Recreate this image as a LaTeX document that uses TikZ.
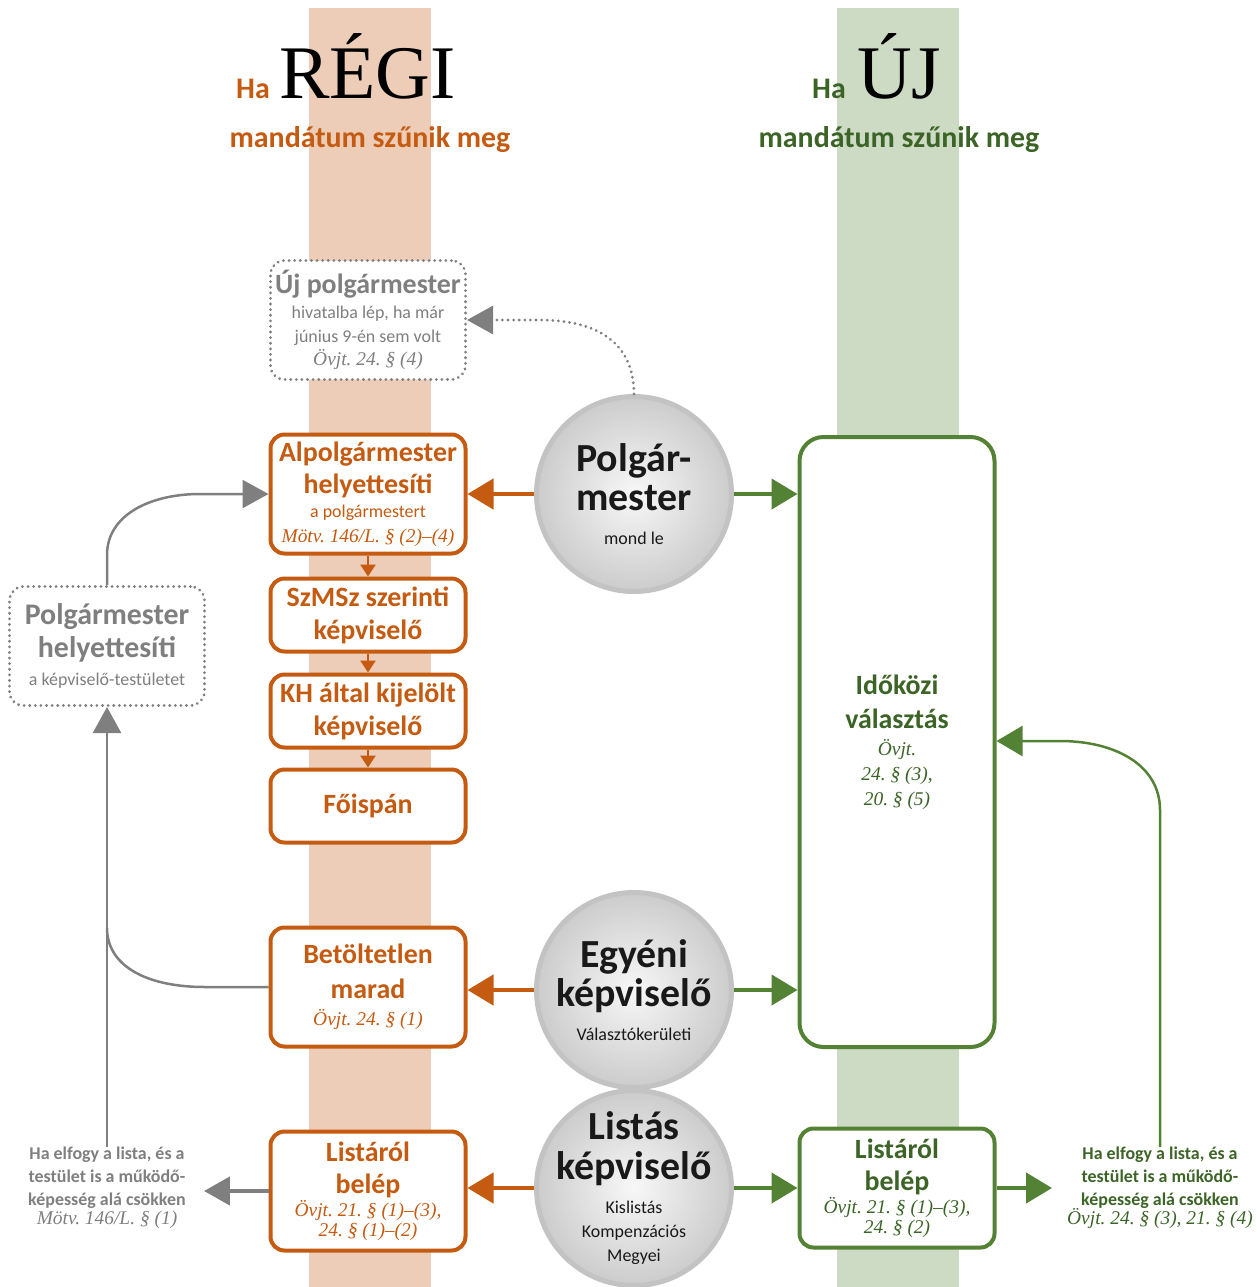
\documentclass[tikz,border=0pt]{standalone}
\usepackage{fontspec}
\setmainfont{Carlito}
\newfontfamily\lawfont{Liberation Serif}[WordSpace=0.7]
\newfontfamily\headfont{Liberation Serif}
\usetikzlibrary{arrows.meta,positioning}
\frenchspacing

\definecolor{orng}{HTML}{C55A11}
\definecolor{orngband}{HTML}{EDCDB8}
\definecolor{grn}{HTML}{548235}
\definecolor{grntext}{HTML}{3B6426}
\definecolor{grnband}{HTML}{CDDBC5}
\definecolor{gry}{HTML}{7F7F7F}
\definecolor{circline}{HTML}{C3C3C3}

\newcommand{\fsz}[2]{\fontsize{#1}{#2}\selectfont}
\newcommand{\law}[1]{{\mdseries\lawfont\itshape\fsz{19.5}{20}#1}}
\newcommand{\subline}[1]{{\mdseries\fsz{18}{20}#1}}

\tikzset{
  oldbox/.style={draw=orng, line width=4bp, rounded corners=14bp, fill=white, text=orng,
    minimum width=195bp, align=center, inner sep=0pt, font=\bfseries\fsz{28}{31}},
  newbox/.style={oldbox, draw=grn, text=grntext},
  maybebox/.style={draw=gry, line width=3bp, dash pattern=on 0.1bp off 5.5bp, line cap=round,
    rounded corners=14bp, fill=white, text=gry, minimum width=195bp, minimum height=119bp,
    align=center, inner sep=0pt, font=\bfseries\fsz{28}{31}},
  quitcirc/.style={circle, draw=circline, line width=5bp, minimum size=195bp, inner sep=0pt,
    shading=radial, inner color=black!3, outer color=black!20, align=center,
    text=black!90, font=\bfseries\fsz{40}{40}},
  sidetext/.style={align=center, inner sep=0pt, font=\bfseries\fsz{18}{23}},
  oarrow/.style={draw=orng, line width=4.5bp, -{Triangle[length=26bp,width=30bp]}},
  narrow/.style={draw=grn, line width=4.5bp, -{Triangle[length=26bp,width=30bp]}},
  stackarrow/.style={draw=orng, line width=2.5bp, -{Triangle[length=12bp,width=15bp]}},
  grayarrow/.style={draw=gry, line width=2.5bp, -{Triangle[length=26bp,width=28bp]}},
}

\begin{document}
\begin{tikzpicture}[x=1bp,y=-1bp]
\useasboundingbox (0,0) rectangle (1257,1287);
% bands
\fill[orngband] (309,8) rectangle (431,1287);
\fill[grnband] (837,8) rectangle (959,1287);

% headings
\node[anchor=base west, inner sep=0pt, text=orng, font=\bfseries\fsz{30}{30}] (haold) at (236,98) {Ha};
\node[anchor=base west, inner sep=0pt, font=\headfont\fsz{76}{76}] (regi) at (279,98) {RÉGI};
\node[anchor=base, inner sep=0pt, text=orng, font=\bfseries\fsz{30}{30}] (mold) at (370,147) {mandátum szűnik meg};
\node[anchor=base west, inner sep=0pt, text=grntext, font=\bfseries\fsz{30}{30}] (hanew) at (812,98) {Ha};
\node[anchor=base west, inner sep=0pt, font=\headfont\fsz{76}{76}] (uj) at (857,98) {ÚJ};
\node[anchor=base, inner sep=0pt, text=grntext, font=\bfseries\fsz{30}{30}] (mnew) at (899,147) {mandátum szűnik meg};

% circles
\node[quitcirc] (pm) at (634,494) {Polgár-\\mester\\[-6bp]\subline{mond le}};
\node[quitcirc] (egyeni) at (634,990) {Egyéni\\képviselő\\[-6bp]\subline{Választókerületi}};
\node[quitcirc, inner sep=-16bp] (listas) at (634,1188) {Listás\\képviselő\\[-6bp]\subline{Kislistás}\\[-16bp]\subline{Kompenzációs}\\[-16bp]\subline{Megyei}};

% left column
\node[maybebox] (ujpm) at (368,320) {Új polgármester\\[-6bp]\subline{hivatalba lép, ha már}\\[-7bp]\subline{június 9-én sem volt}\\[-7bp]\law{Övjt. 24. § (4)}};
\node[oldbox, minimum height=119bp] (alpol) at (368,494) {Alpolgármester\\[1bp]helyettesíti\\[-7bp]\subline{a polgármestert}\\[-6bp]\law{Mötv. 146/L. § (2)–(4)}};
\node[oldbox, minimum height=73bp] (szmsz) at (368,615) {SzMSz szerinti\\[2bp]képviselő};
\node[oldbox, minimum height=73bp] (khkij) at (368,711) {KH által kijelölt\\[2bp]képviselő};
\node[oldbox, minimum height=73bp] (foisp) at (368,806) {Főispán};
\node[oldbox, minimum height=119bp] (betolt) at (368,987) {Betöltetlen\\[4bp]marad\\[-4bp]\law{Övjt. 24. § (1)}};
\node[oldbox, minimum height=119bp] (lbelep) at (368,1191) {Listáról\\[1bp]belép\\[-8bp]\law{Övjt. 21. § (1)–(3),}\\[-11bp]\law{24. § (1)–(2)}};
\node[maybebox, font=\bfseries\fsz{30}{33}] (helyet) at (107,646) {Polgármester\\helyettesíti\\[-5bp]\subline{a képviselő-testületet}};
\node[sidetext, text=gry, inner xsep=18bp] (ltext) at (107,1188) {Ha elfogy a lista, és a\\testület is a működő-\\képesség alá csökken\\[-4bp]\law{Mötv. 146/L. § (1)}};

% right column
\node[newbox, minimum height=610bp, rounded corners=24bp] (idokozi) at (897,742) {Időközi\\[3bp]választás\\[-4bp]\law{Övjt.}\\[-6bp]\law{24. § (3),}\\[-6bp]\law{20. § (5)}};
\node[newbox, minimum height=119bp] (rbelep) at (897,1188) {Listáról\\[1bp]belép\\[-8bp]\law{Övjt. 21. § (1)–(3),}\\[-11bp]\law{24. § (2)}};
\node[sidetext, text=grntext, inner xsep=15bp] (rtext) at (1160,1188) {Ha elfogy a lista, és a\\testület is a működő-\\képesség alá csökken\\[-4bp]\law{Övjt. 24. § (3), 21. § (4)}};

% arrows from the circles
\draw[oarrow] (pm.west) -- (alpol.east);
\draw[narrow] (pm.east) -- (pm.east -| idokozi.west);
\draw[oarrow] (egyeni.west) -- (egyeni.west -| betolt.east);
\draw[narrow] (egyeni.east) -- (egyeni.east -| idokozi.west);
\draw[oarrow] (listas.west) -- (listas.west -| lbelep.east);
\draw[narrow] (listas.east) -- (listas.east -| rbelep.west);

% substitution chain
\draw[stackarrow] (alpol) -- (szmsz);
\draw[stackarrow] (szmsz) -- (khkij);
\draw[stackarrow] (khkij) -- (foisp);

% grey paths
\draw[grayarrow, line width=3bp, dash pattern=on 0.1bp off 5.5bp, line cap=round] (pm.north) .. controls (634,345) and (600,320) .. (540,320) -- (ujpm.east);
\draw[grayarrow] (helyet.north) -- (107,555) .. controls (107,515) and (150,494) .. (200,494) -- (alpol.west);
\draw[grayarrow] (ltext.north) -- (helyet.south);
\draw[draw=gry, line width=2.5bp] (betolt.west) -- (205,987) .. controls (145,987) and (107,965) .. (107,928);
\draw[grayarrow, line width=4.5bp] (lbelep.west) -- (lbelep.west -| ltext.east);

% green loop back
\draw[narrow] (rbelep.east) -- (rbelep.east -| rtext.west);
\draw[draw=grn, line width=2.5bp, -{Triangle[length=26bp,width=30bp]}] (rtext.north) -- (1160,810) .. controls (1160,765) and (1115,741) .. (1060,741) -- (idokozi.east |- 0,741);
\end{tikzpicture}
\end{document}
